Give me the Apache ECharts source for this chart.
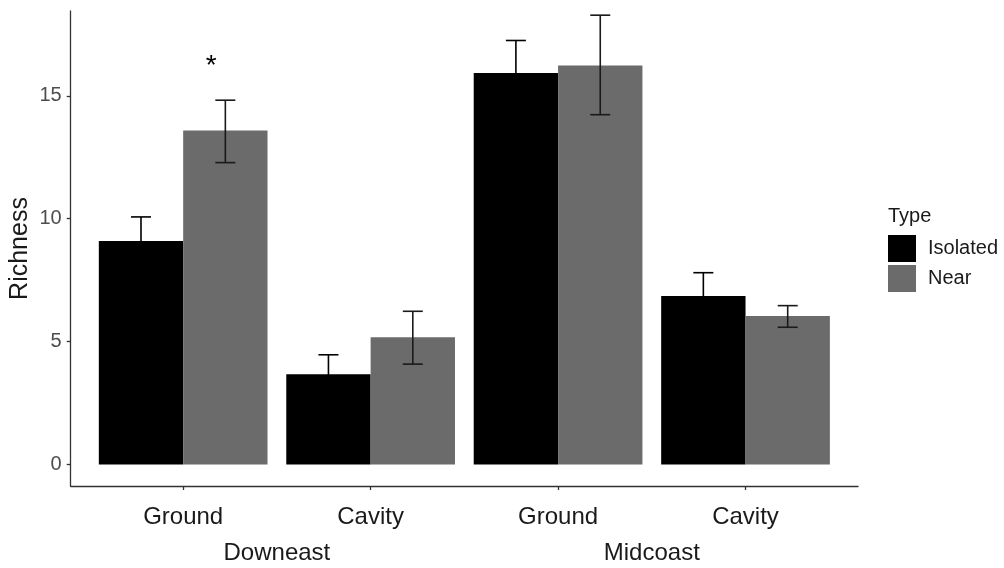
<!DOCTYPE html>
<html>
<head>
<meta charset="utf-8">
<script src="https://cdn.jsdelivr.net/npm/echarts@6/dist/echarts.min.js"></script>
<style>html,body{margin:0;padding:0;background:#fff}#c{width:1004px;height:568px}</style>
</head>
<body>
<div id="c"></div>
<script>
// ---- data ----
const categories = ['Ground', 'Cavity', 'Ground', 'Cavity'];
const regions = ['Downeast', 'Midcoast'];
const seriesNames = ['Isolated', 'Near'];
const isolated = [9.09, 3.67, 15.93, 6.85];
const isolatedLow = [8.11, 2.88, 14.61, 5.90];
const isolatedHigh = [10.07, 4.46, 17.25, 7.80];
const near = [13.59, 5.17, 16.23, 6.04];
const nearLow = [12.28, 4.08, 14.23, 5.58];
const nearHigh = [14.82, 6.23, 18.28, 6.46];
const yTicks = [0, 5, 10, 15];
const annotations = [{ x: 1.15, y: 16.18, text: '*' }];

const FONT = '"Liberation Sans", Arial, sans-serif';
const colors = ['#000000', '#6b6b6b'];
const errColors = ['#000000', '#1a1a1a'];
const dodge = [-0.225, 0.225];
const halfW = 0.225;

function barData(vals) { return vals.map((v, i) => [i + 1, v]); }
function errData(lo, hi) { return lo.map((l, i) => [i + 1, l, hi[i]]); }

function barRender(k) {
  return function (params, api) {
    const x = api.value(0) + dodge[k];
    const p1 = api.coord([x - halfW, api.value(1)]);
    const p2 = api.coord([x + halfW, 0]);
    return {
      type: 'rect',
      shape: { x: p1[0], y: p1[1], width: p2[0] - p1[0], height: p2[1] - p1[1] },
      style: { fill: colors[k] }
    };
  };
}
function errRender(k) {
  return function (params, api) {
    const x = api.value(0) + dodge[k];
    const lo = api.coord([x, api.value(1)]);
    const hi = api.coord([x, api.value(2)]);
    const cw = 10;
    const st = { stroke: errColors[k], lineWidth: 1.6 };
    return {
      type: 'group',
      children: [
        { type: 'line', shape: { x1: lo[0], y1: lo[1], x2: hi[0], y2: hi[1] }, style: st },
        { type: 'line', shape: { x1: hi[0] - cw, y1: hi[1], x2: hi[0] + cw, y2: hi[1] }, style: st },
        { type: 'line', shape: { x1: lo[0] - cw, y1: lo[1], x2: lo[0] + cw, y2: lo[1] }, style: st }
      ]
    };
  };
}

const chart = echarts.init(document.getElementById('c'), null, { renderer: 'canvas' });
chart.setOption({
  animation: false,
  backgroundColor: '#ffffff',
  grid: { left: 70.7, right: 146, top: 11, bottom: 82, containLabel: false, outerBoundsMode: 'none' },
  title: {
    text: 'Type', left: 888, top: 206, padding: 0,
    textStyle: { fontFamily: FONT, fontSize: 20, fontWeight: 'normal', color: '#1a1a1a' }
  },
  legend: {
    data: seriesNames, orient: 'vertical', left: 888, top: 235, padding: 0,
    itemWidth: 28, itemHeight: 27, itemGap: 3, icon: 'rect',
    textStyle: { fontFamily: FONT, fontSize: 20, color: '#1a1a1a', padding: [0, 0, 0, 7] }
  },
  xAxis: [
    {
      type: 'value', min: 0.4, max: 4.6, position: 'bottom',
      axisLine: { show: true, onZero: false, lineStyle: { color: '#333333', width: 1.3 } },
      axisTick: { show: true, length: 4, customValues: [1, 2, 3, 4], lineStyle: { color: '#333333', width: 1.3 } },
      axisLabel: {
        customValues: [1, 2, 3, 4], margin: 19,
        formatter: v => categories[Math.round(v) - 1],
        fontFamily: FONT, fontSize: 24, color: '#1a1a1a'
      },
      splitLine: { show: false }
    },
    {
      type: 'value', min: 0.4, max: 4.6, position: 'bottom',
      axisLine: { show: false, onZero: false }, axisTick: { show: false },
      axisLabel: {
        customValues: [1.5, 3.5], margin: 55,
        formatter: v => regions[v < 2.5 ? 0 : 1],
        fontFamily: FONT, fontSize: 24, color: '#1a1a1a'
      },
      splitLine: { show: false }
    }
  ],
  yAxis: {
    type: 'value', min: -0.88, max: 18.45,
    name: 'Richness', nameLocation: 'middle', nameGap: 38, nameMoveOverlap: false,
    nameTextStyle: { fontFamily: FONT, fontSize: 25, color: '#1a1a1a' },
    axisLine: { show: true, onZero: false, lineStyle: { color: '#333333', width: 1.3 } },
    axisTick: { show: true, length: 4, customValues: yTicks, lineStyle: { color: '#333333', width: 1.3 } },
    axisLabel: { customValues: yTicks, margin: 9, fontFamily: FONT, fontSize: 20, color: '#4d4d4d' },
    splitLine: { show: false }
  },
  series: [
    { name: 'Isolated', type: 'custom', itemStyle: { color: colors[0] }, renderItem: barRender(0), data: barData(isolated), encode: { x: 0, y: 1 } },
    { name: 'Near', type: 'custom', itemStyle: { color: colors[1] }, renderItem: barRender(1), data: barData(near), encode: { x: 0, y: 1 } },
    { name: 'errIso', type: 'custom', renderItem: errRender(0), data: errData(isolatedLow, isolatedHigh), encode: { x: 0, y: [1, 2] }, z: 5 },
    { name: 'errNear', type: 'custom', renderItem: errRender(1), data: errData(nearLow, nearHigh), encode: { x: 0, y: [1, 2] }, z: 5 },
    {
      name: 'annot', type: 'custom', z: 6,
      data: annotations.map(a => [a.x, a.y]),
      renderItem: function (params, api) {
        const p = api.coord([api.value(0), api.value(1)]);
        return {
          type: 'text',
          style: {
            x: p[0], y: p[1], text: annotations[params.dataIndex].text,
            font: '28px ' + FONT, fill: '#000', align: 'center', verticalAlign: 'middle'
          }
        };
      }
    }
  ]
});
</script>
</body>
</html>
